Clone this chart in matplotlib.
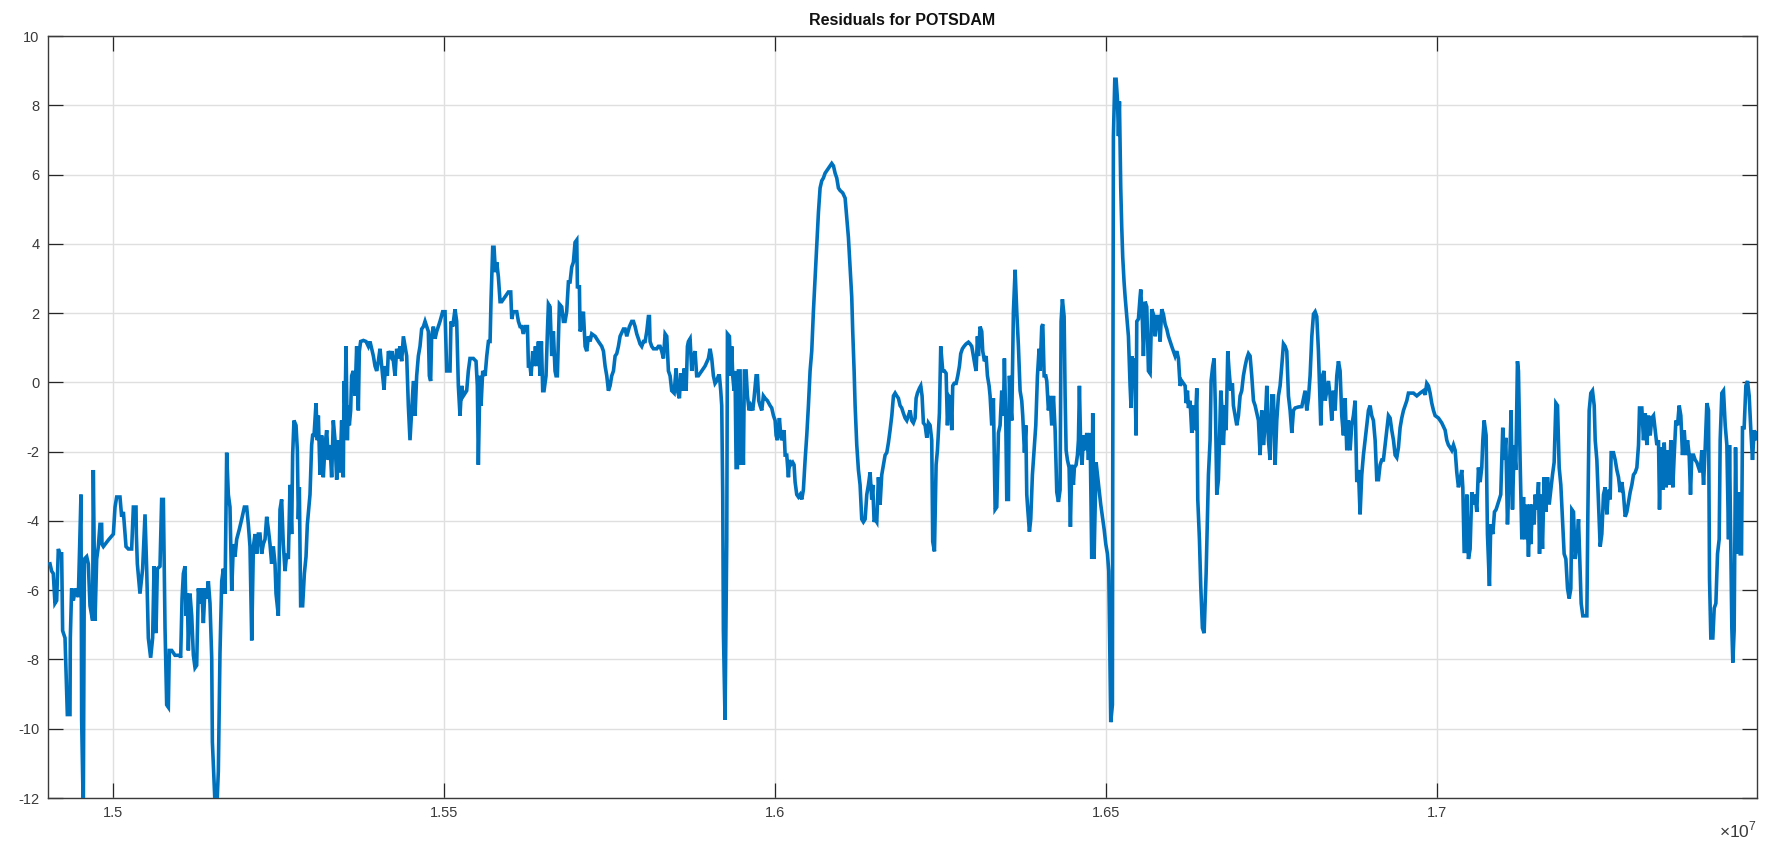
import numpy as np
import matplotlib
matplotlib.use("Agg")
import matplotlib.pyplot as plt
from matplotlib.ticker import FuncFormatter

title = "Residuals for POTSDAM"
x_scale_label = r"$\times10^{7}$"
x_ticks = [1.5, 1.55, 1.6, 1.65, 1.7]
y_ticks = list(range(-12, 11, 2))

# x in units of 1e7, y residual values (segments read left to right)
x_a = [1.49053,1.49078,1.49103,1.49128,1.49154,1.49179,1.49204,1.49229,1.49244,1.49280,1.49315,1.49355,1.49360,1.49380,1.49405,1.49440,1.49481,1.49521,1.49531,1.49556,1.49572,1.49607,1.49632,1.49657,1.49697,1.49707,1.49733,1.49758,1.49783,1.49808,1.49833,1.49838,1.49859,1.49935,1.50010,1.50035,1.50060,1.50110,1.50135,1.50161,1.50201,1.50236,1.50286,1.50312,1.50352,1.50357,1.50372,1.50412,1.50452,1.50488,1.50513,1.50538,1.50573,1.50603,1.50624,1.50654,1.50674,1.50714,1.50739,1.50765,1.50790,1.50815,1.50840,1.50855,1.50891,1.50941,1.51016,1.51026,1.51047,1.51067,1.51092,1.51107,1.51127,1.51142,1.51167,1.51193,1.51218,1.51243,1.51268,1.51293,1.51318,1.51344,1.51369,1.51394,1.51419,1.51444,1.51469,1.51495,1.51505,1.51530,1.51550,1.51570,1.51595,1.51620,1.51646,1.51671,1.51696,1.51721,1.51746,1.51771,1.51797,1.51822,1.51847,1.51872,1.51912,1.51948,1.51988,1.52023,1.52048,1.52073,1.52099,1.52124,1.52149,1.52174,1.52199]
y_a = [-5.24,-5.45,-5.52,-6.38,-6.30,-4.81,-4.95,-4.95,-7.17,-7.38,-9.59,-9.59,-7.38,-5.95,-6.30,-5.95,-6.20,-3.24,-9.74,-12.4,-5.10,-5.03,-5.24,-6.45,-6.88,-2.53,-6.88,-5.10,-4.74,-4.10,-4.10,-4.67,-4.74,-4.55,-4.38,-3.60,-3.31,-3.31,-3.88,-3.74,-4.74,-4.81,-4.81,-3.60,-3.60,-4.38,-5.24,-6.10,-5.38,-3.81,-5.38,-7.38,-7.95,-7.38,-5.31,-7.24,-5.38,-5.31,-3.38,-3.38,-7.09,-9.31,-9.38,-7.74,-7.74,-7.88,-7.88,-7.95,-6.24,-5.52,-5.31,-6.74,-6.10,-7.74,-6.10,-6.74,-7.88,-8.24,-8.17,-5.95,-6.38,-5.95,-6.95,-5.95,-6.24,-5.74,-6.38,-7.95,-10.38,-11.52,-12.4,-12.4,-11.23,-7.81,-5.74,-5.38,-6.10,-2.03,-3.24,-3.60,-6.02,-4.67,-5.03,-4.53,-4.24,-3.95,-3.60,-3.60,-4.10,-4.74,-7.45,-4.74,-4.38,-4.95,-4.38]

x_b = [1.52224,1.52249,1.52274,1.52300,1.52325,1.52350,1.52375,1.52400,1.52425,1.52451,1.52466,1.52501,1.52526,1.52551,1.52576,1.52602,1.52627,1.52652,1.52677,1.52702,1.52717,1.52737,1.52768,1.52788,1.52803,1.52818,1.52838,1.52868,1.52894,1.52919,1.52939,1.52979,1.53004,1.53019,1.53040,1.53070,1.53090,1.53105,1.53130,1.53155,1.53180,1.53206,1.53231,1.53256,1.53281,1.53306,1.53331,1.53357,1.53382,1.53407,1.53432,1.53457,1.53482,1.53493,1.53508,1.53523,1.53543,1.53558,1.53573,1.53593,1.53608,1.53633,1.53659,1.53684,1.53709,1.53724,1.53744,1.53785,1.53825,1.53860,1.53885,1.53936,1.53961,1.53986,1.54011,1.54036,1.54061,1.54076,1.54097,1.54117,1.54147,1.54162,1.54197,1.54217,1.54238,1.54263,1.54288,1.54313,1.54338,1.54363,1.54389,1.54414,1.54439,1.54464,1.54489,1.54514,1.54540,1.54565,1.54590,1.54615,1.54640,1.54665,1.54691,1.54716,1.54741,1.54766,1.54781,1.54801,1.54816,1.54842,1.54867,1.54892,1.54942,1.54982,1.55018,1.55043,1.55068,1.55093,1.55108,1.55134,1.55169,1.55194,1.55219,1.55244,1.55269,1.55295,1.55345,1.55370,1.55395,1.55446,1.55486,1.55506,1.55521,1.55546]
y_b = [-4.38,-4.95,-4.67,-4.53,-3.88,-4.24,-4.67,-5.24,-4.74,-5.24,-6.10,-6.74,-3.67,-3.38,-4.67,-5.45,-4.95,-5.10,-2.96,-4.38,-2.10,-1.10,-1.24,-1.96,-3.95,-3.03,-6.45,-6.45,-5.52,-5.03,-4.10,-3.24,-1.81,-1.53,-1.53,-0.60,-1.67,-0.96,-2.67,-1.53,-2.74,-1.81,-1.38,-2.24,-1.81,-2.74,-1.10,-1.67,-2.81,-1.67,-2.60,-1.10,-2.74,0.04,-0.81,1.04,-1.67,-0.67,-1.24,-0.81,0.19,0.33,-0.39,1.04,-0.81,0.90,1.18,1.21,1.18,1.04,1.18,0.76,0.47,0.33,0.61,0.97,0.47,0.19,-0.21,0.47,0.19,0.90,0.76,0.90,0.61,0.19,0.97,0.69,1.04,0.61,1.33,1.04,0.76,-0.67,-1.67,-0.81,0.04,-0.96,0.19,0.76,1.04,1.54,1.61,1.76,1.61,1.47,0.19,0.04,1.33,1.61,1.26,1.47,1.76,2.04,2.04,0.33,0.33,0.33,1.76,1.61,2.11,1.76,-0.10,-0.96,-0.10,-0.39,-0.24,0.33,0.69,0.69,0.61,-0.10,-2.38,0.19]

x_c = [1.55562,1.55587,1.55623,1.55648,1.55673,1.55698,1.55713,1.55738,1.55758,1.55779,1.55799,1.55824,1.55849,1.55874,1.55925,1.55975,1.56010,1.56025,1.56050,1.56101,1.56126,1.56151,1.56176,1.56201,1.56227,1.56262,1.56277,1.56302,1.56317,1.56342,1.56362,1.56383,1.56403,1.56428,1.56453,1.56473,1.56493,1.56513,1.56543,1.56564,1.56579,1.56604,1.56629,1.56654,1.56679,1.56694,1.56714,1.56745,1.56780,1.56805,1.56830,1.56855,1.56881,1.56906,1.56931,1.56956,1.56981,1.57007,1.57017,1.57047,1.57057,1.57082,1.57107,1.57133,1.57158,1.57183,1.57208,1.57233,1.57284,1.57334,1.57384,1.57410,1.57435,1.57460,1.57485,1.57510,1.57535,1.57561,1.57586,1.57611,1.57636,1.57661,1.57712,1.57737,1.57762,1.57802,1.57837,1.57863,1.57888,1.57913,1.57938,1.57963,1.57988,1.58014,1.58039,1.58064,1.58089,1.58104,1.58114,1.58139,1.58165,1.58215,1.58240,1.58265,1.58290,1.58316,1.58341,1.58366,1.58391,1.58416,1.58441,1.58477,1.58507,1.58527,1.58557,1.58577,1.58607,1.58628,1.58658,1.58678,1.58693,1.58718]
y_c = [-0.67,0.33,0.19,0.76,1.18,1.18,2.40,3.90,3.90,3.18,3.47,3.04,2.33,2.33,2.47,2.61,2.61,1.83,2.04,2.04,1.76,1.61,1.61,1.40,1.61,1.61,0.47,0.47,0.19,0.90,0.47,1.04,0.47,1.18,0.19,1.18,-0.24,-0.24,0.19,1.47,2.26,2.18,0.76,1.47,0.33,0.19,0.19,2.26,2.18,1.76,1.76,2.04,2.90,2.90,3.33,3.47,4.04,4.11,2.76,2.76,1.47,1.61,2.04,1.04,0.90,1.33,1.18,1.40,1.33,1.18,1.04,0.90,0.47,0.19,-0.24,-0.10,0.19,0.33,0.76,0.83,1.04,1.33,1.54,1.54,1.33,1.61,1.76,1.76,1.61,1.40,1.26,1.11,1.04,1.18,1.18,1.47,1.90,1.90,1.18,1.04,0.97,0.97,1.04,1.04,0.90,0.69,1.40,1.33,0.33,0.19,-0.24,-0.31,0.40,-0.24,-0.46,0.26,-0.24,0.40,-0.24,1.04,1.18,1.26]

x_d = [1.58743,1.58758,1.58793,1.58818,1.58844,1.58894,1.58944,1.58995,1.59020,1.59045,1.59070,1.59095,1.59120,1.59146,1.59161,1.59181,1.59196,1.59211,1.59221,1.59246,1.59272,1.59282,1.59312,1.59332,1.59347,1.59362,1.59382,1.59397,1.59413,1.59433,1.59448,1.59473,1.59488,1.59503,1.59523,1.59538,1.59564,1.59584,1.59609,1.59634,1.59664,1.59684,1.59715,1.59735,1.59755,1.59775,1.59800,1.59825,1.59851,1.59886,1.59926,1.59951,1.59977,1.60002,1.60017,1.60037,1.60067,1.60087,1.60107,1.60138,1.60153,1.60178,1.60203,1.60218,1.60238,1.60268,1.60288,1.60304,1.60329,1.60354,1.60379,1.60404,1.60429,1.60455,1.60480,1.60505,1.60530,1.60555,1.60580,1.60606,1.60631,1.60656,1.60681,1.60706,1.60731,1.60757,1.60782,1.60807,1.60832,1.60857,1.60883,1.60908,1.60933,1.60958,1.60983,1.61023,1.61059,1.61084,1.61109,1.61134,1.61159,1.61174,1.61195,1.61210,1.61235,1.61260,1.61285,1.61310,1.61335,1.61361,1.61386,1.61411,1.61436,1.61461,1.61476,1.61497,1.61512,1.61537,1.61562,1.61587,1.61612,1.61638,1.61663,1.61688,1.61713,1.61738,1.61764,1.61789,1.61814,1.61839,1.61864,1.61889]
y_d = [0.33,0.69,0.90,0.19,0.19,0.33,0.47,0.69,0.97,0.69,0.19,-0.03,0.04,0.19,0.19,-0.24,-0.67,-3.24,-7.17,-9.74,-4.53,1.40,1.33,0.19,1.04,0.19,-0.24,0.33,-2.46,-2.46,0.33,0.33,-2.38,-0.96,-2.38,0.33,0.33,-0.39,-0.81,-0.67,-0.81,-0.46,0.19,0.19,-0.53,-0.67,-0.81,-0.39,-0.46,-0.53,-0.67,-0.74,-0.96,-1.10,-1.53,-1.67,-1.03,-1.53,-1.67,-1.38,-2.10,-2.10,-2.74,-2.24,-2.38,-2.31,-2.38,-2.88,-3.24,-3.31,-3.24,-3.38,-3.10,-2.24,-1.53,-0.67,0.33,0.90,2.04,3.04,4.04,4.90,5.61,5.82,5.90,6.04,6.11,6.18,6.25,6.32,6.25,6.04,5.90,5.61,5.54,5.47,5.32,4.75,4.18,3.33,2.47,1.47,0.33,-0.67,-1.81,-2.53,-2.96,-3.95,-4.03,-3.95,-3.24,-2.96,-2.60,-3.38,-2.96,-4.03,-3.95,-4.03,-2.74,-3.53,-2.67,-2.38,-2.10,-2.03,-1.74,-1.38,-0.96,-0.39,-0.31,-0.39,-0.46,-0.67]

x_e = [1.61914,1.61939,1.61965,1.61990,1.62015,1.62040,1.62065,1.62090,1.62116,1.62131,1.62151,1.62181,1.62201,1.62221,1.62241,1.62267,1.62292,1.62317,1.62342,1.62367,1.62382,1.62408,1.62433,1.62453,1.62483,1.62503,1.62533,1.62559,1.62584,1.62604,1.62624,1.62654,1.62669,1.62684,1.62705,1.62735,1.62760,1.62785,1.62805,1.62830,1.62855,1.62886,1.62921,1.62946,1.62971,1.62996,1.63022,1.63037,1.63057,1.63072,1.63097,1.63122,1.63137,1.63163,1.63188,1.63208,1.63233,1.63248,1.63273,1.63298,1.63324,1.63349,1.63374,1.63399,1.63424,1.63449,1.63464,1.63485,1.63500,1.63525,1.63540,1.63560,1.63575,1.63600,1.63626,1.63651,1.63676,1.63701,1.63726,1.63741,1.63767,1.63787,1.63802,1.63817,1.63842,1.63862,1.63887,1.63913,1.63938,1.63963,1.63988,1.64003,1.64028,1.64044,1.64064,1.64089,1.64104,1.64129,1.64154,1.64179,1.64205,1.64230,1.64255,1.64280,1.64305,1.64320,1.64340,1.64366,1.64381,1.64396,1.64416,1.64441,1.64461,1.64481,1.64506,1.64521,1.64547,1.64567,1.64582,1.64597,1.64617,1.64637,1.64657,1.64683,1.64708,1.64733,1.64758,1.64783,1.64798,1.64818,1.64849,1.64869,1.64894,1.64919,1.64944,1.64970,1.64995,1.65020,1.65040]
y_e = [-0.74,-0.89,-1.03,-1.10,-0.96,-0.81,-1.10,-1.17,-1.03,-0.46,-0.31,-0.17,-0.10,-0.39,-1.17,-1.24,-1.60,-1.17,-1.24,-1.67,-4.60,-4.88,-2.38,-1.96,-0.89,1.04,0.33,0.33,0.26,-1.24,-0.39,-0.46,-1.38,-0.10,-0.03,-0.03,0.19,0.47,0.83,0.97,1.04,1.11,1.16,1.11,1.04,0.76,0.47,0.33,1.33,0.76,1.61,1.47,0.90,0.61,0.76,0.19,-0.10,-0.39,-1.24,-0.46,-3.67,-3.60,-1.46,-1.24,-0.24,-0.96,0.69,-1.10,-3.38,-3.38,0.19,-0.67,-1.10,2.04,3.25,2.04,1.04,-0.24,-0.53,-0.96,-2.03,-1.24,-3.24,-3.67,-4.31,-3.95,-2.67,-1.96,-1.24,0.19,0.97,0.33,1.61,1.68,0.19,0.19,0.04,-0.81,-0.39,-1.24,-0.39,-1.38,-3.17,-3.45,-3.10,1.76,2.40,1.90,-0.39,-1.96,-2.24,-2.46,-4.17,-2.38,-2.96,-2.46,-2.38,-2.10,-1.67,-0.10,-1.96,-2.38,-1.53,-1.96,-1.46,-2.24,-1.46,-5.10,-0.89,-5.10,-2.31,-2.67,-3.10,-3.53,-3.88,-4.24,-4.67,-4.95,-5.45]

x_f = [1.65070,1.65095,1.65100,1.65110,1.65131,1.65151,1.65171,1.65186,1.65201,1.65221,1.65236,1.65251,1.65271,1.65287,1.65312,1.65337,1.65362,1.65377,1.65392,1.65412,1.65428,1.65453,1.65463,1.65488,1.65513,1.65523,1.65548,1.65563,1.65589,1.65614,1.65639,1.65664,1.65689,1.65714,1.65740,1.65765,1.65790,1.65815,1.65840,1.65865,1.65891,1.65916,1.65941,1.65966,1.65991,1.66016,1.66042,1.66067,1.66092,1.66117,1.66142,1.66167,1.66193,1.66208,1.66228,1.66243,1.66268,1.66293,1.66318,1.66344,1.66369,1.66384,1.66409,1.66429,1.66454,1.66480,1.66495,1.66510,1.66530,1.66545,1.66570,1.66585,1.66610,1.66631,1.66651,1.66671,1.66696,1.66711,1.66731,1.66746,1.66771,1.66797,1.66812,1.66837,1.66857,1.66882,1.66907,1.66922,1.66948,1.66973,1.66998,1.67023,1.67048,1.67073,1.67099,1.67124,1.67149,1.67174,1.67199,1.67225,1.67250,1.67275,1.67300,1.67325,1.67350,1.67376,1.67401,1.67426,1.67451,1.67476,1.67501,1.67527,1.67552,1.67577,1.67602,1.67627,1.67652,1.67678,1.67703,1.67728,1.67753,1.67778,1.67804,1.67829,1.67854,1.67904,1.67955,1.68005,1.68030,1.68055,1.68080,1.68106,1.68131,1.68156,1.68181,1.68206,1.68231]
y_f = [-9.81,-9.31,-2.74,7.11,8.75,8.75,8.18,7.11,8.11,5.61,4.47,3.61,2.90,2.47,1.90,1.33,-0.10,-0.74,0.76,-0.10,0.69,-1.53,1.76,1.83,2.47,2.68,1.76,0.76,2.33,2.18,0.33,0.26,2.11,1.97,1.33,1.90,1.90,1.18,2.11,1.97,1.68,1.54,1.33,1.18,1.04,0.90,0.76,0.90,0.69,-0.10,0.04,-0.03,-0.10,-0.60,-0.24,-0.74,-0.53,-1.46,-0.67,-1.38,-0.17,-3.38,-4.53,-5.88,-7.09,-7.24,-6.38,-5.52,-3.88,-2.67,-1.67,0.04,0.47,0.69,-0.81,-3.24,-2.81,-1.67,-0.24,-0.67,-1.81,-0.67,-1.38,0.90,0.33,-0.24,-0.03,-0.67,-0.96,-1.24,-0.96,-0.39,-0.24,0.19,0.47,0.69,0.83,0.76,0.19,-0.53,-0.67,-0.89,-1.10,-2.10,-0.81,-1.81,-1.24,-0.10,-1.67,-2.24,-0.39,-0.39,-2.38,-1.10,-0.39,-0.10,0.47,1.11,1.04,0.90,-0.39,-0.81,-1.46,-0.81,-0.74,-0.71,-0.70,-0.24,-0.81,-0.46,0.19,1.33,1.97,2.04,1.90,0.90,-0.67]

x_g = [1.68241,1.68266,1.68291,1.68307,1.68332,1.68357,1.68382,1.68407,1.68432,1.68458,1.68483,1.68508,1.68533,1.68558,1.68583,1.68609,1.68634,1.68659,1.68684,1.68709,1.68734,1.68760,1.68785,1.68810,1.68835,1.68860,1.68885,1.68911,1.68936,1.68961,1.68986,1.69011,1.69036,1.69062,1.69087,1.69112,1.69137,1.69162,1.69187,1.69213,1.69238,1.69263,1.69288,1.69313,1.69339,1.69364,1.69389,1.69414,1.69439,1.69464,1.69490,1.69515,1.69540,1.69565,1.69590,1.69641,1.69691,1.69741,1.69792,1.69817,1.69842,1.69867,1.69892,1.69917,1.69943,1.69968,1.70018,1.70068,1.70119,1.70144,1.70169,1.70194,1.70219,1.70245,1.70270,1.70295,1.70320,1.70345,1.70370,1.70386,1.70406,1.70431,1.70446,1.70471,1.70496,1.70521,1.70547,1.70572,1.70597,1.70622,1.70647,1.70672,1.70688,1.70708,1.70738,1.70758,1.70788,1.70808,1.70839,1.70864,1.70889,1.70924,1.70959,1.70989,1.71010,1.71035,1.71060,1.71085,1.71115,1.71136,1.71161,1.71186,1.71211,1.71226,1.71251,1.71277,1.71302,1.71327,1.71352,1.71377,1.71402]
y_g = [-1.24,0.19,0.33,-0.53,-0.24,0.04,-0.39,-1.10,-0.24,-0.81,0.19,0.61,0.33,-0.96,-1.53,-0.46,-1.96,-1.10,-1.96,-1.24,-0.96,-0.53,-2.88,-2.53,-3.81,-2.67,-2.10,-1.67,-1.24,-0.81,-0.67,-0.96,-1.10,-1.67,-2.81,-2.81,-2.38,-2.24,-2.24,-1.81,-1.38,-0.96,-1.03,-1.38,-1.67,-2.10,-2.17,-1.88,-1.31,-1.03,-0.81,-0.67,-0.53,-0.31,-0.31,-0.31,-0.39,-0.31,-0.24,-0.36,-0.03,-0.10,-0.31,-0.60,-0.81,-0.96,-1.03,-1.17,-1.38,-1.67,-1.81,-1.88,-1.96,-1.81,-1.96,-2.60,-3.03,-2.81,-2.53,-3.03,-4.88,-4.88,-3.24,-5.10,-4.81,-3.17,-3.53,-3.24,-3.74,-2.46,-2.88,-2.46,-1.67,-1.10,-1.53,-4.38,-5.88,-4.10,-4.38,-3.74,-3.67,-3.45,-3.24,-1.31,-2.24,-1.60,-4.10,-2.88,-0.81,-3.67,-1.81,-2.53,0.61,0.33,-2.24,-4.53,-3.31,-4.53,-3.53,-5.03,-3.53]

x_h = [1.71413,1.71438,1.71463,1.71478,1.71504,1.71529,1.71544,1.71564,1.71589,1.71614,1.71640,1.71665,1.71690,1.71715,1.71740,1.71765,1.71791,1.71816,1.71841,1.71866,1.71891,1.71916,1.71942,1.71967,1.71992,1.72017,1.72032,1.72057,1.72083,1.72108,1.72133,1.72158,1.72173,1.72198,1.72234,1.72259,1.72274,1.72294,1.72319,1.72344,1.72370,1.72385,1.72410,1.72435,1.72460,1.72485,1.72510,1.72536,1.72561,1.72586,1.72611,1.72626,1.72661,1.72687,1.72712,1.72737,1.72762,1.72787,1.72812,1.72838,1.72863,1.72888,1.72913,1.72938,1.72963,1.72989,1.73014,1.73039,1.73054,1.73089,1.73114,1.73140,1.73165,1.73190,1.73215,1.73240,1.73266,1.73291,1.73316,1.73341,1.73356,1.73376,1.73406,1.73427,1.73457,1.73477,1.73507,1.73527,1.73557,1.73578,1.73603,1.73628,1.73653,1.73678,1.73703,1.73729,1.73754,1.73779,1.73804,1.73824,1.73844,1.73870,1.73895,1.73920,1.73945,1.73970,1.73995,1.74021,1.74046,1.74071,1.74096,1.74111,1.74131,1.74161,1.74182,1.74207,1.74232,1.74257,1.74272,1.74297,1.74322,1.74348,1.74373,1.74398,1.74413,1.74433,1.74448,1.74463,1.74483,1.74504,1.74524,1.74549,1.74574,1.74594,1.74609,1.74634,1.74660,1.74685,1.74710,1.74735,1.74760,1.74785,1.74811,1.74836]
y_h = [-4.67,-3.53,-4.10,-3.24,-3.67,-2.88,-4.95,-3.24,-4.81,-2.74,-3.74,-2.74,-3.53,-3.10,-2.67,-2.31,-0.60,-0.67,-2.46,-2.96,-3.95,-4.95,-5.10,-5.95,-6.24,-5.95,-3.67,-3.74,-5.10,-4.67,-3.95,-5.52,-6.38,-6.74,-6.74,-6.74,-3.81,-0.81,-0.31,-0.24,-0.67,-1.67,-2.24,-3.53,-4.74,-4.38,-3.24,-3.03,-3.81,-3.10,-3.38,-2.03,-2.03,-2.24,-2.53,-2.74,-3.17,-2.88,-3.24,-3.88,-3.74,-3.45,-3.17,-2.96,-2.67,-2.60,-2.46,-1.81,-0.74,-0.74,-1.67,-0.89,-1.81,-0.96,-1.53,-1.03,-0.96,-1.38,-1.81,-1.67,-3.67,-1.88,-3.10,-1.74,-3.03,-1.96,-2.96,-1.67,-3.03,-2.10,-1.10,-1.24,-0.67,-0.96,-2.10,-1.38,-2.10,-1.67,-2.10,-3.24,-2.10,-2.10,-2.24,-2.31,-2.46,-2.60,-1.96,-2.96,-1.88,-0.60,-0.81,-5.67,-7.38,-7.38,-6.52,-6.38,-4.95,-4.53,-1.67,-0.31,-0.24,-1.24,-1.81,-4.53,-1.81,-4.95,-7.09,-8.09,-7.17,-1.88,-4.95,-3.17,-4.95,-4.95,-1.31,-1.31,-0.10,0.04,-0.39,-1.38,-2.24,-1.38,-1.67,-1.46]

x_all = np.array(x_a + x_b + x_c + x_d + x_e + x_f + x_g + x_h)
y_all = np.array(y_a + y_b + y_c + y_d + y_e + y_f + y_g + y_h)

plt.rcParams['font.family'] = ['Liberation Sans', 'DejaVu Sans']
plt.rcParams['mathtext.fontset'] = 'custom'
plt.rcParams['mathtext.rm'] = 'Liberation Sans'

fig = plt.figure(figsize=(17.68, 8.48), dpi=100)
ax = fig.add_axes([48/1768, 1 - 798/848, (1757-48)/1768, (798-36)/848])

ax.plot(x_all, y_all, color='#0072BD', linewidth=2.6, solid_joinstyle='miter', zorder=3)

ax.set_xlim(1.49023, 1.74828)
ax.set_ylim(-12, 10)
ax.set_xticks(x_ticks)
ax.set_yticks(y_ticks)
ax.xaxis.set_major_formatter(FuncFormatter(lambda v, p: "%g" % v))
ax.yaxis.set_major_formatter(FuncFormatter(lambda v, p: "%d" % v))

ax.grid(True, color='#dfdfdf', linewidth=1.0, zorder=0)
ax.set_axisbelow(True)
ax.tick_params(direction='in', length=11, width=0.9, color='#262626',
               labelcolor='#3a3a3a', labelsize=10.5,
               top=True, right=True, pad=6)
for s in ax.spines.values():
    s.set_color('#3a3a3a')
    s.set_linewidth(1.0)

ax.set_title(title, fontsize=11.5, fontweight='bold', color='#111111', pad=8)
ax.text(1.0, -0.028, x_scale_label, transform=ax.transAxes, ha='right', va='top',
        fontsize=12.5, color='#3a3a3a')

fig.savefig("out.png", dpi=100, facecolor='white')
